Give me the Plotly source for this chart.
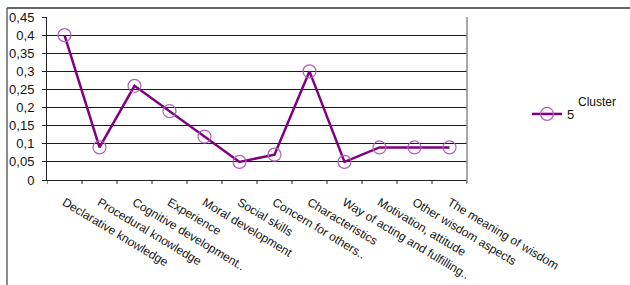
import plotly.graph_objects as go

categories = ["Declarative knowledge", "Procedural knowledge", "Cognitive development..",
              "Experience", "Moral development", "Social skills", "Concern for others..",
              "Characteristics", "Way of acting and fulfilling..", "Motivation, attitude",
              "Other wisdom aspects", "The meaning of wisdom"]
values = [0.40, 0.09, 0.26, 0.19, 0.12, 0.05, 0.07, 0.30, 0.05, 0.09, 0.09, 0.09]
ytick_vals = [0, 0.05, 0.1, 0.15, 0.2, 0.25, 0.3, 0.35, 0.4, 0.45]
ytick_text = ["0", "0,05", "0,1", "0,15", "0,2", "0,25", "0,3", "0,35", "0,4", "0,45"]
series_name = "5"
legend_title = "Cluster"

W, H = 630, 285
L, R, T, B = 47, 163, 17, 105
pw, ph = W - L - R, H - T - B

fig = go.Figure()
fig.add_trace(go.Scatter(
    x=list(range(len(categories))), y=values, mode="lines+markers", name=series_name,
    line=dict(color="#800080", width=2.5),
    marker=dict(symbol="circle-open", size=13, color="#b060c0", line=dict(width=1.2, color="#b060c0")),
))

fig.update_layout(
    width=W, height=H, margin=dict(l=L, r=R, t=T, b=B, autoexpand=False),
    plot_bgcolor="white", paper_bgcolor="white",
    font=dict(family="Liberation Sans, Arial, sans-serif", size=12, color="#111"),
    showlegend=True,
    legend=dict(x=(527 - L) / pw, y=1 - (114 - T) / ph, xanchor="left", yanchor="middle",
                bgcolor="rgba(0,0,0,0)", font=dict(size=13), itemwidth=30, tracegroupgap=0),
    xaxis=dict(
        tickmode="array", tickvals=list(range(len(categories))), ticktext=categories,
        range=[-0.5, len(categories) - 0.5], tickangle=31, automargin=False,
        showgrid=False, showline=True, linecolor="#222", linewidth=1,
        ticks="", zeroline=False, tickfont=dict(size=12), ticklabelstandoff=10,
    ),
    yaxis=dict(
        range=[0, 0.45], tickmode="array", tickvals=ytick_vals, ticktext=ytick_text,
        showgrid=True, gridcolor="#1a1a1a", gridwidth=1, automargin=False,
        showline=True, linecolor="#222", linewidth=1,
        ticks="outside", ticklen=4, tickcolor="#222", zeroline=False,
        tickfont=dict(size=13), ticklabelstandoff=5,
    ),
)

# category boundary tick marks below x axis
for i in range(len(categories) + 1):
    fig.add_shape(type="line", xref="x", yref="paper", x0=i - 0.5, x1=i - 0.5,
                  y0=0, y1=-4 / ph, line=dict(color="#222", width=1))
# right plot-area border
fig.add_shape(type="line", xref="paper", yref="paper", x0=1, x1=1, y0=-3 / ph, y1=1,
              line=dict(color="#888", width=1.5))
# outer frame (top and left)
fig.add_shape(type="line", xref="paper", yref="paper", x0=(7 - L) / pw, x1=(W - L) / pw,
              y0=1 + (T - 8) / ph, y1=1 + (T - 8) / ph, line=dict(color="#333", width=1.5))
fig.add_shape(type="line", xref="paper", yref="paper", x0=(7 - L) / pw, x1=(7 - L) / pw,
              y0=1 + (T - 8) / ph, y1=-(H - T - ph) / ph, line=dict(color="#666", width=1.5))

fig.add_annotation(text=legend_title, xref="paper", yref="paper",
                   x=(576 - L) / pw, y=1 - (102 - T) / ph, xanchor="left", yanchor="middle",
                   showarrow=False, font=dict(size=12))

fig.write_html("out.html", config={"displayModeBar": False},
               post_script="document.body.style.margin='0';document.body.style.overflow='hidden';")
